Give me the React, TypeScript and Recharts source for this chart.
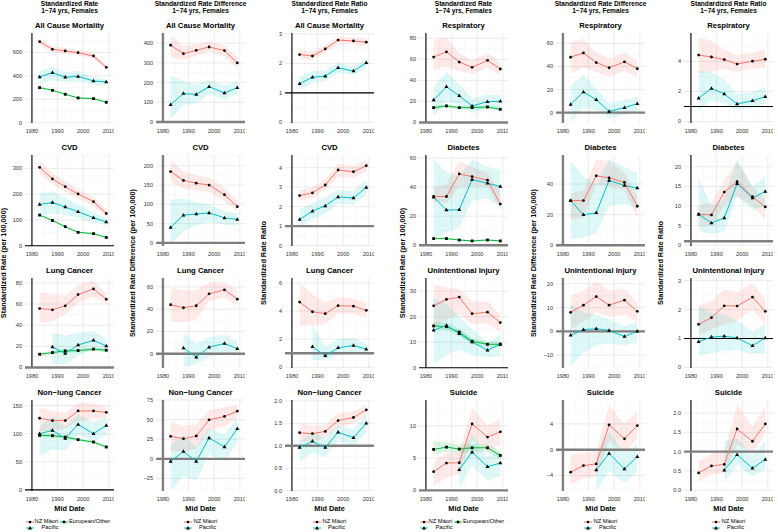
import React from 'react';
import {
  ComposedChart,
  Line,
  Area,
  XAxis,
  YAxis,
  CartesianGrid,
  ReferenceLine,
} from 'recharts';

// [lower, estimate, upper] for each mid date; null where no estimate
type Tri = [number, number, number] | null;

const years = [1983, 1988, 1993, 1998, 2004, 2009];
const xTicks = [1980, 1990, 2000, 2010];
const xMinor = [1985, 1995, 2005];

const columnHeads = [
  'Standardized Rate',
  'Standardized Rate Difference',
  'Standardized Rate Ratio',
  'Standardized Rate',
  'Standardized Rate Difference',
  'Standardized Rate Ratio',
];
const subHead = '1\u221274 yrs, Females';
const yTitles = [
  'Standardized Rate (per 100,000)',
  'Standardized Rate Difference (per 100,000)',
  'Standardized Rate Ratio',
];
const causes = [
  ['All Cause Mortality', 'Respiratory'],
  ['CVD', 'Diabetes'],
  ['Lung Cancer', 'Unintentional Injury'],
  ['Non\u2212lung Cancer', 'Suicide'],
];

// All cause mortality
const acmRateMaori: Tri[] = [[660, 691, 720], [600, 626, 652], [590, 612, 636], [575, 597, 620], [545, 569, 592], [448, 472, 496]];
const acmRatePacific: Tri[] = [[335, 390, 440], [365, 427, 480], [345, 387, 430], [350, 395, 440], [325, 356, 385], [320, 347, 372]];
const acmRateEuro: Tri[] = [[292, 299, 306], [269, 276, 283], [235, 242, 249], [204, 211, 218], [198, 205, 212], [167, 174, 181]];
const acmDiffMaori: Tri[] = [[330, 390, 440], [315, 347, 385], [335, 364, 395], [355, 381, 410], [335, 363, 390], [270, 300, 330]];
const acmDiffPacific: Tri[] = [[15, 88, 235], [85, 145, 210], [95, 140, 190], [140, 179, 215], [115, 148, 185], [145, 174, 205]];
const acmRatioMaori: Tri[] = [[2.15, 2.3, 2.45], [2.12, 2.25, 2.4], [2.36, 2.49, 2.62], [2.65, 2.79, 2.9], [2.64, 2.76, 2.88], [2.6, 2.72, 2.84]];
const acmRatioPacific: Tri[] = [[1.08, 1.31, 1.56], [1.33, 1.53, 1.74], [1.4, 1.57, 1.76], [1.68, 1.85, 2.02], [1.6, 1.74, 1.88], [1.86, 2.02, 2.16]];

// Respiratory
const respRateMaori: Tri[] = [[50, 62.1, 78], [53, 67.1, 81], [49, 57.4, 66], [46, 52.4, 59], [52, 59, 66], [45, 50.8, 57]];
const respRatePacific: Tri[] = [[6, 21.3, 34], [21, 33.9, 48], [16, 25.4, 36], [9, 15.7, 23], [13, 19.8, 26], [14, 20.1, 26]];
const respRateEuro: Tri[] = [[12.3, 14.1, 15.9], [13.9, 15.7, 17.5], [12.3, 14.1, 15.9], [12.3, 14.1, 15.9], [12.9, 14.7, 16.5], [10.7, 12.5, 14.3]];
const respDiffMaori: Tri[] = [[34, 48, 61], [39, 51.7, 64], [35, 43.4, 52], [31, 38.9, 47], [36, 44, 52], [31, 38, 45]];
const respDiffPacific: Tri[] = [[-9, 7.1, 23], [4, 18, 33], [2, 11.1, 21], [-5, 1.1, 8], [-2, 4.3, 11], [1, 7.7, 14]];
const respRatioMaori: Tri[] = [[3.2, 4.43, 5.6], [3.3, 4.3, 5.4], [3.5, 4.13, 4.8], [3.3, 3.83, 4.4], [3.5, 4.02, 4.6], [3.6, 4.15, 4.8]];
const respRatioPacific: Tri[] = [[0.7, 1.56, 3.4], [1.4, 2.21, 3.3], [1.2, 1.84, 2.8], [0.75, 1.17, 1.8], [0.95, 1.38, 1.95], [1.2, 1.66, 2.3]];

// CVD
const cvdRateMaori: Tri[] = [[280, 304, 330], [238, 259, 282], [210, 229, 250], [184, 201, 220], [154, 171, 188], [110, 125, 140]];
const cvdRatePacific: Tri[] = [[118, 160, 205], [125, 168, 210], [118, 150, 185], [108, 132, 160], [92, 109, 128], [78, 92, 108]];
const cvdRateEuro: Tri[] = [[115, 119, 123], [94, 98, 102], [70, 74, 78], [48, 52, 56], [43, 47, 51], [28, 32, 36]];
const cvdDiffMaori: Tri[] = [[158, 185, 215], [140, 162, 186], [136, 155, 175], [132, 150, 170], [108, 125, 143], [80, 94, 110]];
const cvdDiffPacific: Tri[] = [[-5, 40, 112], [30, 72, 115], [45, 75, 105], [55, 78, 100], [48, 65, 82], [46, 61, 76]];
const cvdRatioMaori: Tri[] = [[2.3, 2.57, 2.85], [2.45, 2.71, 3.0], [2.85, 3.11, 3.4], [3.55, 3.88, 4.2], [3.5, 3.79, 4.1], [3.8, 4.1, 4.4]];
const cvdRatioPacific: Tri[] = [[0.95, 1.34, 1.85], [1.35, 1.77, 2.2], [1.65, 2.04, 2.45], [2.15, 2.5, 2.85], [2.1, 2.44, 2.8], [2.6, 2.99, 3.4]];

// Diabetes
const diabRateMaori: Tri[] = [[30, 33.5, 39.5], [29, 33.5, 42], [40, 49, 58], [40.5, 47.2, 54], [40, 44.7, 50], [24.5, 28.3, 37]];
const diabRatePacific: Tri[] = [[4, 33.1, 59], [9, 24.2, 50], [12, 24.4, 47], [31, 45.2, 59], [32, 42.6, 54], [27, 40.4, 52]];
const diabRateEuro: Tri[] = [[3.8, 4.6, 5.4], [3.8, 4.6, 5.4], [2.9, 3.6, 4.3], [2.4, 3.0, 3.6], [2.9, 3.6, 4.3], [2.4, 3.0, 3.6]];
const diabDiffMaori: Tri[] = [[17, 29.2, 34], [18, 29.2, 36], [39.5, 45.4, 56], [38, 44.1, 55], [36, 41.1, 47], [18, 25.5, 32]];
const diabDiffPacific: Tri[] = [[4, 29.2, 55], [5, 19.9, 45], [8, 21.2, 40], [25.5, 42.4, 56], [27, 39.1, 51], [24, 37.4, 47]];
const diabRatioMaori: Tri[] = [[4.9, 7.88, 10], [5, 7.71, 11], [10, 13.56, 16.5], [12.5, 16.19, 21.4], [10, 12.37, 15], [6.6, 9.75, 11.7]];
const diabRatioPacific: Tri[] = [[3.6, 7.88, 17.2], [2.8, 5.68, 10], [3.5, 6.95, 12], [12.5, 15.68, 21.9], [9, 12.03, 15], [10, 13.73, 17.6]];

// Lung cancer
const lungRateMaori: Tri[] = [[42, 55.8, 71], [44, 54.6, 69], [50, 58.4, 68], [61, 69, 78], [67, 74.4, 82], [59.6, 64.6, 70]];
const lungRatePacific: Tri[] = [null, [3, 19.4, 33], [3, 13.2, 30], [11, 21.3, 33], [17, 25.7, 34.5], [14, 20.4, 27]];
const lungRateEuro: Tri[] = [[10.7, 12.5, 14.3], [12.3, 14.1, 15.9], [13.9, 15.7, 17.5], [14.2, 16, 17.8], [15.5, 17.3, 19.1], [14.5, 16.3, 18.1]];
const lungDiffMaori: Tri[] = [[29, 44, 59], [28, 41.3, 57], [31, 43.1, 57], [47, 53.8, 64], [51, 57.4, 65], [43, 49, 57]];
const lungDiffPacific: Tri[] = [null, [-12, 5.3, 19], [-9, -3, 9], [-3, 5.9, 15], [0, 9.2, 17], [-2, 4.5, 11]];
const lungRatioMaori: Tri[] = [[2.95, 4.64, 6.0], [3.0, 3.95, 5.2], [3.1, 3.81, 4.6], [3.8, 4.38, 5.0], [3.8, 4.35, 4.9], [3.5, 4.05, 4.6]];
const lungRatioPacific: Tri[] = [null, [0.5, 1.46, 3.05], [0.5, 0.82, 1.5], [0.9, 1.39, 2.0], [1.1, 1.55, 2.1], [0.95, 1.29, 1.7]];

// Unintentional injury
const injRateMaori: Tri[] = [[15.7, 24.3, 32.6], [19, 26.8, 31.5], [21, 27.7, 31], [17, 21.2, 26], [17.5, 21.8, 26], [13.8, 17.7, 20.9]];
const injRatePacific: Tri[] = [[1.5, 14.7, 27.4], [5, 16.6, 25], [7, 13.4, 20], [5, 10.1, 15], [4, 6.9, 10], [4.5, 9.2, 13]];
const injRateEuro: Tri[] = [[14.9, 16.4, 17.9], [14.6, 16.1, 17.6], [12.5, 14, 15.5], [9.2, 10.4, 11.6], [8.2, 9.2, 10.2], [8.2, 9.2, 10.2]];
const injDiffMaori: Tri[] = [[1, 8, 15], [4, 11, 17], [8, 14.6, 21], [6, 11, 17], [7, 13.1, 18], [4, 8.4, 12]];
const injDiffPacific: Tri[] = [[-14.7, -1.65, 11.4], [-9, 0.7, 8], [-6, 1.1, 7], [-5, 0.4, 5], [-6, -2.2, 2], [-4.5, 0.1, 4]];
const injRatioMaori: Tri[] = [[1.14, 1.49, 2.12], [1.3, 1.72, 2.3], [1.5, 2.13, 2.7], [1.6, 2.12, 2.6], [2.0, 2.43, 2.93], [1.5, 1.94, 2.35]];
const injRatioPacific: Tri[] = [[0.4, 0.89, 2.12], [0.5, 1.05, 1.9], [0.57, 1.08, 1.85], [0.6, 1.02, 1.6], [0.46, 0.75, 1.25], [0.5, 1.02, 1.5]];

// Non-lung cancer
const nlcRateMaori: Tri[] = [[104, 127.5, 146], [106, 123.4, 141], [109, 123.4, 137], [122, 140.5, 155], [126, 140.5, 154], [128, 138.1, 148]];
const nlcRatePacific: Tri[] = [[60, 100, 113], [72, 105.9, 130], [70, 91.7, 113], [99, 116.5, 134], [86, 100, 121], [97, 114.8, 129]];
const nlcRateEuro: Tri[] = [[94, 97, 100], [93.5, 96.5, 99.5], [91, 94, 97], [86.4, 89.4, 92.4], [82.2, 85.2, 88.2], [73.3, 76.3, 79.3]];
const nlcDiffMaori: Tri[] = [[10, 28.7, 47.6], [9, 25.7, 42], [13, 29.1, 44], [36, 49.7, 62], [41, 54, 66], [52, 60.7, 69]];
const nlcDiffPacific: Tri[] = [[-41, -3.4, 18], [-22, 9.3, 29], [-28, -3.4, 16], [5.5, 26.6, 39], [-3, 15.2, 31], [22, 38.4, 52]];
const nlcRatioMaori: Tri[] = [[1.09, 1.29, 1.5], [1.1, 1.27, 1.45], [1.17, 1.32, 1.47], [1.4, 1.56, 1.72], [1.5, 1.63, 1.77], [1.65, 1.8, 1.91]];
const nlcRatioPacific: Tri[] = [[0.64, 0.96, 1.09], [0.85, 1.1, 1.3], [0.75, 0.96, 1.16], [1.1, 1.3, 1.45], [1.0, 1.18, 1.36], [1.3, 1.5, 1.7]];

// Suicide
const suiRateMaori: Tri[] = [[0.7, 2.89, 4.5], [2.0, 4.23, 5.8], [2.5, 4.28, 5.9], [7.9, 10.3, 12.8], [6.0, 8.25, 10.0], [7.1, 9.07, 11]];
const suiRatePacific: Tri[] = [null, null, [0.4, 3.2, 5.6], [3.8, 5.93, 8.7], [1.5, 3.66, 5.3], [2.2, 4.23, 6.0]];
const suiRateEuro: Tri[] = [[5.6, 6.34, 7.6], [6.0, 6.7, 7.4], [5.8, 6.4, 7.1], [6.0, 6.6, 7.2], [6.0, 6.6, 7.2], [4.8, 5.41, 6.1]];
const suiDiffMaori: Tri[] = [[-5.4, -3.49, -0.77], [-4.4, -2.46, -0.5], [-4.2, -2.2, -0.2], [1.3, 3.85, 6.9], [-0.5, 1.69, 4.0], [1.6, 3.74, 5.9]];
const suiDiffPacific: Tri[] = [null, null, [-6.4, -3.13, -0.8], [-3.3, -0.6, 2.8], [-5.2, -2.97, -0.6], [-3.5, -1.08, 1.0]];
const suiRatioMaori: Tri[] = [[0.24, 0.45, 0.75], [0.4, 0.63, 0.95], [0.45, 0.67, 0.98], [1.18, 1.59, 2.21], [1.0, 1.27, 1.65], [1.44, 1.72, 2.17]];
const suiRatioPacific: Tri[] = [null, null, [0.2, 0.52, 1.27], [0.67, 0.92, 1.35], [0.35, 0.57, 0.9], [0.55, 0.8, 1.27]];

type Spec = {
  maori: Tri[];
  pacific: Tri[];
  euro?: Tri[];
  domain: [number, number];
  ticks: number[];
  ref: number | null;
  refDark?: boolean;
  vDark: boolean;
  dec?: number;
};

// row-major, 4 rows x 6 columns
const specs: Spec[] = [
  { maori: acmRateMaori, pacific: acmRatePacific, euro: acmRateEuro, domain: [-3, 765], ticks: [0, 200, 400, 600], ref: null, vDark: true },
  { maori: acmDiffMaori, pacific: acmDiffPacific, domain: [-5, 452], ticks: [0, 100, 200, 300, 400], ref: 0, vDark: false },
  { maori: acmRatioMaori, pacific: acmRatioPacific, domain: [-0.02, 3.03], ticks: [0, 1, 2, 3], ref: 1, refDark: true, vDark: true },
  { maori: respRateMaori, pacific: respRatePacific, euro: respRateEuro, domain: [-0.5, 85], ticks: [0, 20, 40, 60, 80], ref: 0, vDark: true },
  { maori: respDiffMaori, pacific: respDiffPacific, domain: [-9, 69], ticks: [0, 20, 40, 60], ref: 0, vDark: false },
  { maori: respRatioMaori, pacific: respRatioPacific, domain: [-0.1, 5.9], ticks: [0, 2, 4], ref: 1, refDark: true, vDark: true },

  { maori: cvdRateMaori, pacific: cvdRatePacific, euro: cvdRateEuro, domain: [-1, 352], ticks: [0, 100, 200, 300], ref: 0, refDark: true, vDark: true },
  { maori: cvdDiffMaori, pacific: cvdDiffPacific, domain: [-8, 228], ticks: [0, 50, 100, 150, 200], ref: 0, vDark: false },
  { maori: cvdRatioMaori, pacific: cvdRatioPacific, domain: [-0.02, 4.65], ticks: [0, 1, 2, 3, 4], ref: 1, vDark: true },
  { maori: diabRateMaori, pacific: diabRatePacific, euro: diabRateEuro, domain: [-0.5, 62], ticks: [0, 20, 40, 60], ref: 0, vDark: true },
  { maori: diabDiffMaori, pacific: diabDiffPacific, domain: [-0.5, 59], ticks: [0, 20, 40], ref: 0, vDark: false },
  { maori: diabRatioMaori, pacific: diabRatioPacific, domain: [-0.2, 23], ticks: [0, 5, 10, 15, 20], ref: 1, vDark: true },

  { maori: lungRateMaori, pacific: lungRatePacific, euro: lungRateEuro, domain: [-0.5, 84.7], ticks: [0, 20, 40, 60, 80], ref: 0, vDark: true },
  { maori: lungDiffMaori, pacific: lungDiffPacific, domain: [-12.8, 68], ticks: [0, 20, 40, 60], ref: 0, vDark: false },
  { maori: lungRatioMaori, pacific: lungRatioPacific, domain: [-0.05, 6.35], ticks: [0, 2, 4, 6], ref: 1, vDark: true },
  { maori: injRateMaori, pacific: injRatePacific, euro: injRateEuro, domain: [-0.1, 35.2], ticks: [0, 10, 20, 30], ref: 0, refDark: true, vDark: true },
  { maori: injDiffMaori, pacific: injDiffPacific, domain: [-15.4, 22.4], ticks: [-10, 0, 10, 20], ref: 0, vDark: false },
  { maori: injRatioMaori, pacific: injRatioPacific, domain: [-0.02, 3.09], ticks: [0, 1, 2, 3], ref: 1, refDark: true, vDark: true },

  { maori: nlcRateMaori, pacific: nlcRatePacific, euro: nlcRateEuro, domain: [-2, 160], ticks: [0, 50, 100, 150], ref: 0, refDark: true, vDark: true },
  { maori: nlcDiffMaori, pacific: nlcDiffPacific, domain: [-41, 75], ticks: [-25, 0, 25, 50, 75], ref: 0, vDark: false },
  { maori: nlcRatioMaori, pacific: nlcRatioPacific, domain: [-0.01, 2.02], ticks: [0, 0.5, 1, 1.5, 2], ref: 1, vDark: true, dec: 1 },
  { maori: suiRateMaori, pacific: suiRatePacific, euro: suiRateEuro, domain: [-0.1, 14], ticks: [0, 5, 10], ref: 0, vDark: true },
  { maori: suiDiffMaori, pacific: suiDiffPacific, domain: [-6.4, 7.7], ticks: [-4, 0, 4], ref: 0, vDark: false },
  { maori: suiRatioMaori, pacific: suiRatioPacific, domain: [-0.02, 2.34], ticks: [0, 0.5, 1, 1.5, 2], ref: 1, vDark: true, dec: 1 },
];

const RED = '#F8766D';
const CYAN = '#00BFC4';
const GREEN = '#00BA38';
const GREY_LINE = '#7f7f7f';
const FONT = '"Liberation Sans", Arial, Helvetica, sans-serif';

const COL_LEFT = [25, 156, 285, 419, 556, 684];
const PLOT_W = 89;
const ROW_TOP = [33, 155, 278, 400];
const ROW_H = [90, 91, 90, 91];
const Y_AXIS_W = 24;
const X_AXIS_H = 14;
const PAD_TOP = 5; // room so the top tick label is not clipped
const Y_TITLE_X = [4, 133, 264, 403, 534, 661];

const fmt = (dec: number) => (v: number) => {
  const s = Math.abs(v).toFixed(dec);
  return v < 0 ? '\u2212' + s : s;
};

const minorOf = (ticks: number[], domain: [number, number]) => {
  const step = ticks.length > 1 ? ticks[1] - ticks[0] : 1;
  const out: number[] = [];
  for (let v = ticks[0] - step / 2; v <= domain[1]; v += step) {
    if (v >= domain[0]) out.push(v);
  }
  return out;
};

const makeDot = (shape: 'circle' | 'tri' | 'sq') => (p: any) => {
  const { cx, cy, index, value } = p;
  const k = `${shape}-${index}`;
  if (value == null || cx == null || cy == null || Number.isNaN(cy)) return <g key={k} />;
  if (shape === 'tri')
    return <path key={k} d={`M${cx},${cy - 2.2}L${cx + 2},${cy + 1.3}L${cx - 2},${cy + 1.3}Z`} fill="#000" />;
  if (shape === 'sq') return <rect key={k} x={cx - 1.4} y={cy - 1.4} width={2.8} height={2.8} fill="#000" />;
  return <circle key={k} cx={cx} cy={cy} r={1.4} fill="#000" />;
};

const toRows = (s: Spec) =>
  years.map((year, i) => {
    const m = s.maori[i];
    const p = s.pacific[i];
    const e = s.euro ? s.euro[i] : null;
    return {
      year,
      m: m ? m[1] : null,
      mb: m ? [m[0], m[2]] : null,
      p: p ? p[1] : null,
      pb: p ? [p[0], p[2]] : null,
      e: e ? e[1] : null,
      eb: e ? [e[0], e[2]] : null,
    };
  });

const tickStyle = { fontSize: 5.6, fill: '#333', fontFamily: FONT };

const Panel = ({ spec, row, col }: { spec: Spec; row: number; col: number }) => {
  const data = toRows(spec);
  const h = ROW_H[row];
  const hasEuro = !!spec.euro;
  return (
    <div style={{ position: 'absolute', left: COL_LEFT[col] - Y_AXIS_W, top: ROW_TOP[row] - PAD_TOP }}>
      <ComposedChart
        width={Y_AXIS_W + PLOT_W}
        height={PAD_TOP + h + X_AXIS_H}
        data={data}
        margin={{ top: PAD_TOP, right: 0, bottom: 0, left: 0 }}
      >
        <CartesianGrid
          stroke="#f2f2f2"
          strokeWidth={0.5}
          horizontalValues={minorOf(spec.ticks, spec.domain)}
          verticalValues={xMinor}
        />
        <CartesianGrid
          stroke="#e2e2e2"
          strokeWidth={0.7}
          horizontalValues={spec.ticks}
          verticalValues={xTicks}
        />
        <XAxis
          type="number"
          dataKey="year"
          domain={[1977.3, 2012]}
          ticks={xTicks}
          allowDataOverflow
          axisLine={false}
          tickLine={false}
          tickSize={4}
          tickMargin={2}
          height={X_AXIS_H}
          tick={tickStyle}
          interval={0}
        />
        <YAxis
          type="number"
          domain={spec.domain}
          ticks={spec.ticks}
          allowDataOverflow
          axisLine={false}
          tickLine={false}
          tickSize={2}
          tickMargin={1}
          width={Y_AXIS_W}
          tick={tickStyle}
          tickFormatter={fmt(spec.dec ?? 0)}
          interval={0}
        />
        <Area dataKey="mb" type="linear" stroke="none" fill={RED} fillOpacity={0.15} isAnimationActive={false} />
        <Area dataKey="pb" type="linear" stroke="none" fill={CYAN} fillOpacity={0.13} isAnimationActive={false} />
        {hasEuro && (
          <Area dataKey="eb" type="linear" stroke="none" fill={GREEN} fillOpacity={0.14} isAnimationActive={false} />
        )}
        <ReferenceLine
          x={1980}
          stroke={spec.vDark ? '#000' : GREY_LINE}
          strokeWidth={spec.vDark ? 1.1 : 2.4}
        />
        {spec.ref !== null && (
          <ReferenceLine
            y={spec.ref}
            stroke={spec.refDark ? '#000' : GREY_LINE}
            strokeWidth={spec.refDark ? 1.1 : 2.4}
          />
        )}
        {hasEuro && (
          <Line dataKey="e" type="linear" stroke={GREEN} strokeWidth={1} dot={makeDot('sq')} activeDot={false} isAnimationActive={false} />
        )}
        <Line dataKey="p" type="linear" stroke={CYAN} strokeWidth={1} dot={makeDot('tri')} activeDot={false} isAnimationActive={false} />
        <Line dataKey="m" type="linear" stroke={RED} strokeWidth={1} dot={makeDot('circle')} activeDot={false} isAnimationActive={false} />
      </ComposedChart>
    </div>
  );
};

const LegendKey = ({ color, shape }: { color: string; shape: 'circle' | 'tri' | 'sq' }) => (
  <svg width={8} height={6} style={{ display: 'block' }}>
    <line x1={0} y1={3} x2={8} y2={3} stroke={color} strokeWidth={1} />
    {shape === 'circle' && <circle cx={4} cy={3} r={1.3} fill="#000" />}
    {shape === 'sq' && <rect x={2.7} y={1.7} width={2.6} height={2.6} fill="#000" />}
    {shape === 'tri' && <path d="M4,1L6,4.4L2,4.4Z" fill="#000" />}
  </svg>
);

const abs = (x: number, y: number, extra: React.CSSProperties = {}): React.CSSProperties => ({
  position: 'absolute',
  left: x,
  top: y,
  whiteSpace: 'nowrap',
  lineHeight: 1,
  ...extra,
});

const Legend = ({ col }: { col: number }) => {
  const c = COL_LEFT[col] + PLOT_W / 2;
  const y1 = 521.5;
  const y2 = 527.8;
  const txt: React.CSSProperties = { fontSize: 5.8, color: '#000', transform: 'translateY(-50%)' };
  if (col === 0 || col === 3) {
    return (
      <>
        <div style={abs(c - 44, y1 - 3)}><LegendKey color={RED} shape="circle" /></div>
        <div style={abs(c - 35, y1, txt)}>NZ Māori</div>
        <div style={abs(c - 9.5, y1 - 3)}><LegendKey color={GREEN} shape="sq" /></div>
        <div style={abs(c - 0.5, y1, txt)}>European/Other</div>
        <div style={abs(c - 44, y2 - 3)}><LegendKey color={CYAN} shape="tri" /></div>
        <div style={abs(c - 28, y2, txt)}>Pacific</div>
      </>
    );
  }
  return (
    <>
      <div style={abs(c - 17, y1 - 3)}><LegendKey color={RED} shape="circle" /></div>
      <div style={abs(c - 7, y1, txt)}>NZ Māori</div>
      <div style={abs(c - 17, y2 - 3)}><LegendKey color={CYAN} shape="tri" /></div>
      <div style={abs(c - 1.5, y2, txt)}>Pacific</div>
    </>
  );
};

export default function App() {
  return (
    <div
      style={{
        position: 'absolute',
        left: 0,
        top: 0,
        width: 778,
        height: 532,
        background: '#fff',
        fontFamily: FONT,
        overflow: 'hidden',
      }}
    >
      {columnHeads.map((head, c) => {
        const cx = COL_LEFT[c] + PLOT_W / 2;
        return (
          <React.Fragment key={`h${c}`}>
            <div style={abs(cx, 3.5, { fontSize: 6.6, fontWeight: 700, transform: 'translate(-50%,-50%)' })}>{head}</div>
            <div style={abs(cx, 10.9, { fontSize: 6.6, fontWeight: 700, transform: 'translate(-50%,-50%)' })}>{subHead}</div>
            <div
              style={abs(Y_TITLE_X[c], 263, {
                fontSize: 7.3,
                fontWeight: 700,
                transform: 'translate(-50%,-50%) rotate(-90deg)',
              })}
            >
              {yTitles[c % 3]}
            </div>
            <div style={abs(cx, 509, { fontSize: 7.3, fontWeight: 700, transform: 'translate(-50%,-50%)' })}>Mid Date</div>
            <Legend col={c} />
          </React.Fragment>
        );
      })}
      {causes.map((pair, r) =>
        [0, 1, 2, 3, 4, 5].map((c) => (
          <div
            key={`t${r}-${c}`}
            style={abs(COL_LEFT[c] + PLOT_W / 2, ROW_TOP[r] - 7, {
              fontSize: 7.7,
              fontWeight: 700,
              transform: 'translate(-50%,-50%)',
            })}
          >
            {pair[c < 3 ? 0 : 1]}
          </div>
        ))
      )}
      {specs.map((s, i) => (
        <Panel key={`p${i}`} spec={s} row={Math.floor(i / 6)} col={i % 6} />
      ))}
    </div>
  );
}
